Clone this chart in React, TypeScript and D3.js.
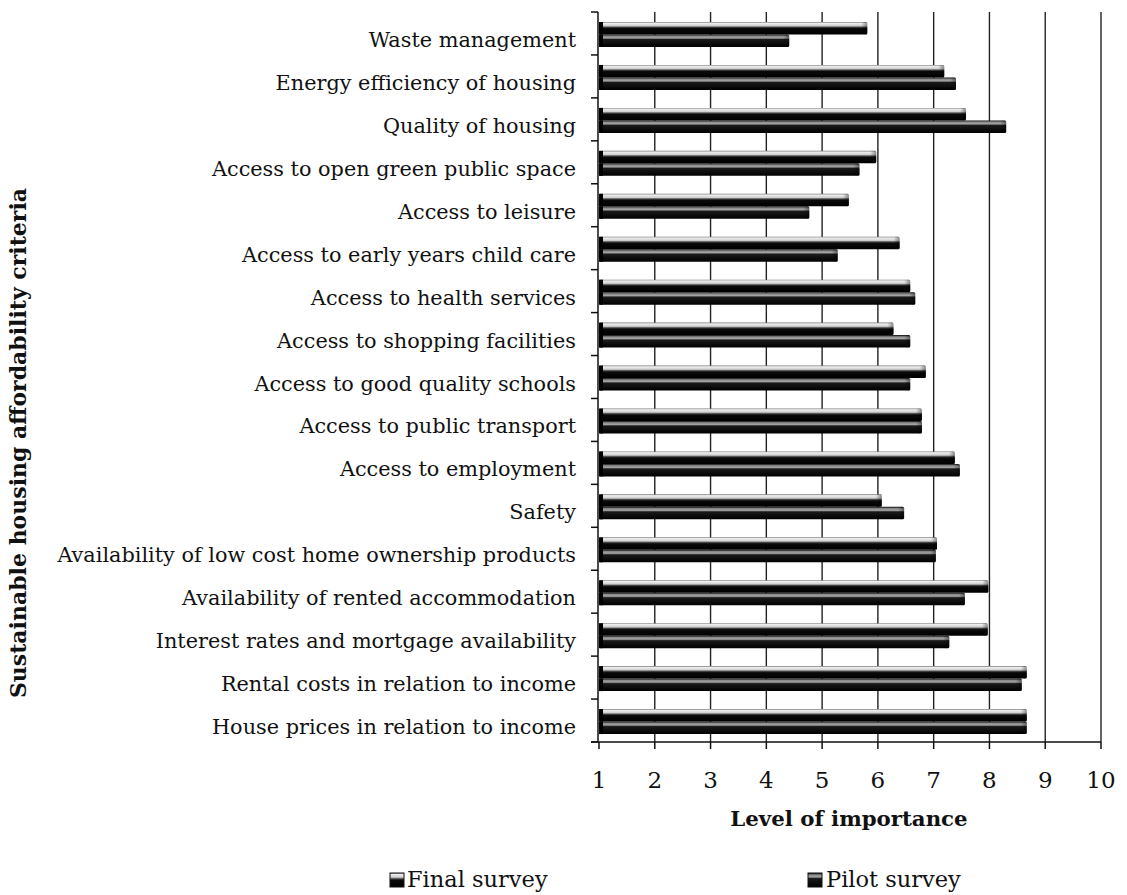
import React, { useEffect } from "react";
import * as d3 from "d3";

// Criteria, listed top to bottom
const criteria: string[] = [
  "Waste management",
  "Energy efficiency of housing",
  "Quality of housing",
  "Access to open green public space",
  "Access to leisure",
  "Access to early years child care",
  "Access to health services",
  "Access to shopping facilities",
  "Access to good quality schools",
  "Access to public transport",
  "Access to employment",
  "Safety",
  "Availability of low cost home ownership products",
  "Availability of rented accommodation",
  "Interest rates and mortgage availability",
  "Rental costs in relation to income",
  "House prices in relation to income",
];

const finalSurvey: number[] = [
  5.81, 7.19, 7.58, 5.97, 5.48, 6.39, 6.58, 6.28, 6.86, 6.79, 7.38, 6.07, 7.06, 7.98, 7.97, 8.67, 8.67,
];

const pilotSurvey: number[] = [
  4.41, 7.4, 8.3, 5.67, 4.77, 5.28, 6.67, 6.58, 6.58, 6.79, 7.47, 6.47, 7.04, 7.56, 7.28, 8.58, 8.67,
];

const seriesNames: string[] = ["Final survey", "Pilot survey"];
const xTicks: number[] = [1, 2, 3, 4, 5, 6, 7, 8, 9, 10];

const W = 1127;
const H = 895;
const M = { left: 599, right: 1101, top: 12, bottom: 742 };
const SERIF = "'DejaVu Serif', 'Liberation Serif', serif";

export default function App() {
  useEffect(() => {
    document.body.style.margin = "0";
  }, []);

  const x = d3.scaleLinear().domain([1, 10]).range([M.left, M.right]);
  const y0 = d3.scaleBand<string>().domain(criteria).range([M.top, M.bottom]).padding(0);
  const y1 = d3.scaleBand<string>().domain(seriesNames).range([10, 35]).padding(0);

  const rows = criteria.map((c, i) => ({ c, vals: [finalSurvey[i], pilotSurvey[i]] }));
  const boundaries = d3.range(criteria.length + 1).map((i) => M.top + i * y0.step());

  return (
    <svg width={W} height={H} style={{ display: "block", background: "#fff" }}>
      <defs>
        <linearGradient id="gFinal" x1="0" y1="0" x2="0" y2="1">
          <stop offset="0%" stopColor="#777" />
          <stop offset="10%" stopColor="#eeeeee" />
          <stop offset="30%" stopColor="#d0d0d0" />
          <stop offset="42%" stopColor="#444" />
          <stop offset="52%" stopColor="#0a0a0a" />
          <stop offset="100%" stopColor="#000" />
        </linearGradient>
        <linearGradient id="gPilot" x1="0" y1="0" x2="0" y2="1">
          <stop offset="0%" stopColor="#0a0a0a" />
          <stop offset="14%" stopColor="#8a8a8a" />
          <stop offset="28%" stopColor="#a5a5a5" />
          <stop offset="40%" stopColor="#1a1a1a" />
          <stop offset="100%" stopColor="#000" />
        </linearGradient>
        <linearGradient id="gEnd" x1="0" y1="0" x2="1" y2="0">
          <stop offset="0%" stopColor="#000" stopOpacity="0" />
          <stop offset="100%" stopColor="#000" stopOpacity="0.4" />
        </linearGradient>
      </defs>

      {/* vertical gridlines */}
      {xTicks.slice(1).map((t) => (
        <line key={"g" + t} x1={x(t)} x2={x(t)} y1={M.top} y2={M.bottom} stroke="#222" strokeWidth={1.4} />
      ))}

      {/* bars */}
      {rows.map((r) => (
        <g key={r.c} transform={`translate(0,${y0(r.c)})`}>
          {r.vals.map((v, j) => {
            const yy = y1(seriesNames[j])!;
            const h = y1.bandwidth();
            const w = x(v) - x(1);
            return (
              <g key={j}>
                <rect
                  x={x(1)}
                  y={yy}
                  width={w}
                  height={h}
                  rx={1.5}
                  fill={j === 0 ? "url(#gFinal)" : "url(#gPilot)"}
                />
                <rect x={x(1)} y={yy} width={4} height={h} fill="#000" />
                <rect x={x(v) - 6} y={yy} width={6} height={h} rx={1.5} fill="url(#gEnd)" />
              </g>
            );
          })}
        </g>
      ))}

      {/* y axis */}
      <line x1={M.left - 1} x2={M.left - 1} y1={M.top} y2={M.bottom} stroke="#111" strokeWidth={1.5} />
      {boundaries.map((b, i) => (
        <line key={"yt" + i} x1={M.left - 8} x2={M.left - 1} y1={b} y2={b} stroke="#111" strokeWidth={1.5} />
      ))}
      {criteria.map((c) => (
        <text
          key={"l" + c}
          x={M.left - 23}
          y={y0(c)! + y0.bandwidth() / 2 + 8}
          textAnchor="end"
          dominantBaseline="middle"
          fontFamily={SERIF}
          fontSize={20.8}
          fill="#111"
        >
          {c}
        </text>
      ))}

      {/* x axis */}
      <line x1={M.left - 8} x2={M.right} y1={M.bottom} y2={M.bottom} stroke="#111" strokeWidth={1.5} />
      {xTicks.map((t) => (
        <line key={"xt" + t} x1={x(t)} x2={x(t)} y1={M.bottom} y2={M.bottom + 7} stroke="#111" strokeWidth={1.5} />
      ))}
      {xTicks.map((t) => (
        <text
          key={"xl" + t}
          x={x(t)}
          y={788}
          textAnchor="middle"
          fontFamily={SERIF}
          fontSize={23}
          fill="#111"
        >
          {t}
        </text>
      ))}

      <text x={849} y={826} textAnchor="middle" fontFamily={SERIF} fontSize={21.3} fontWeight="bold" fill="#111">
        Level of importance
      </text>

      <text
        transform={`translate(26,443) rotate(-90)`}
        textAnchor="middle"
        fontFamily={SERIF}
        fontSize={22}
        fontWeight="bold"
        fill="#111"
      >
        Sustainable housing affordability criteria
      </text>

      {/* legend */}
      <g transform="translate(390,873)">
        <rect x={0} y={0} width={14} height={14} fill="url(#gFinal)" stroke="#111" strokeWidth={1} />
        <text x={17} y={14} fontFamily={SERIF} fontSize={22.5} fill="#111">
          {seriesNames[0]}
        </text>
        <rect x={418} y={0} width={14} height={14} fill="url(#gPilot)" stroke="#111" strokeWidth={1} />
        <text x={436} y={14} fontFamily={SERIF} fontSize={22.5} fill="#111">
          {seriesNames[1]}
        </text>
      </g>
    </svg>
  );
}
